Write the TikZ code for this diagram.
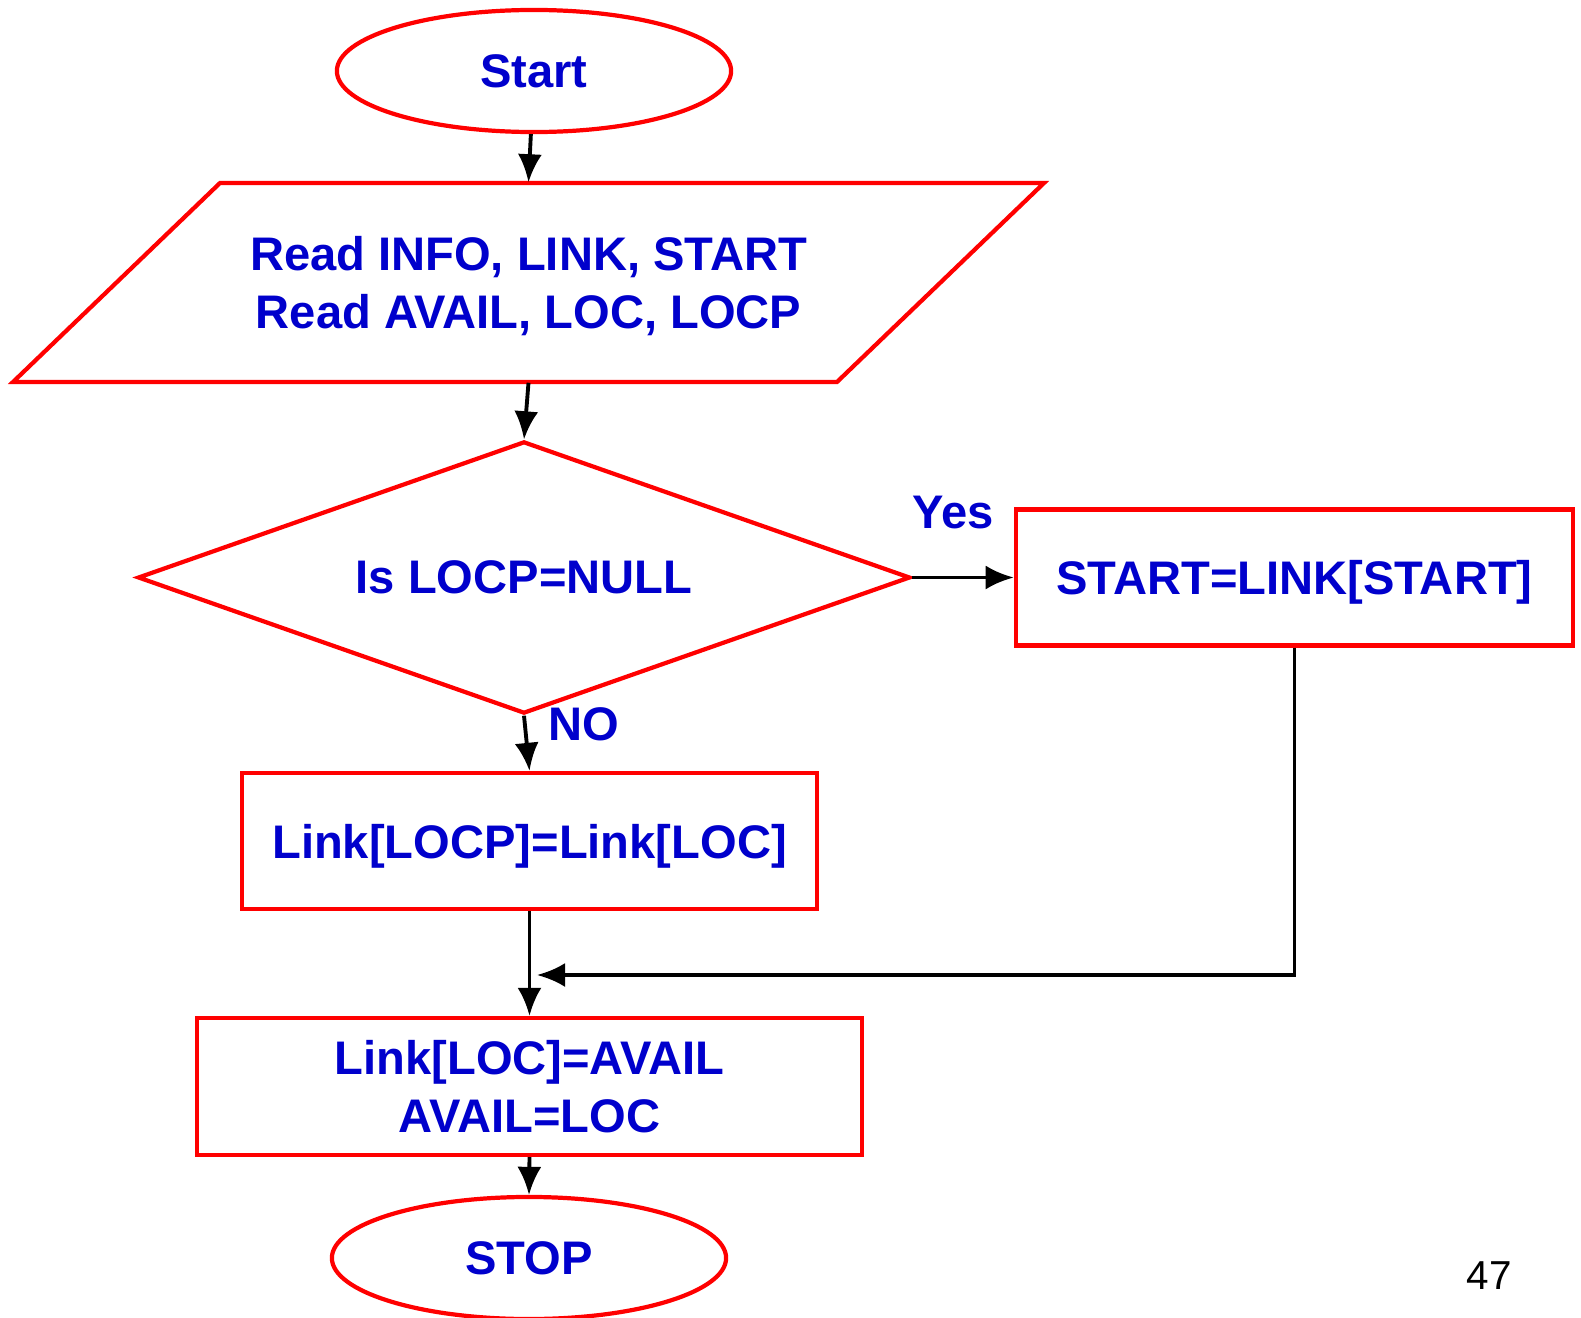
\documentclass[tikz,border=0pt]{standalone}
\usepackage{fontspec}
\setmainfont{Liberation Sans}
\usetikzlibrary{shapes.geometric,arrows.meta}
\definecolor{txtblue}{RGB}{0,0,204}
\tikzset{
  txt/.style={text=txtblue,font=\fontsize{13.4}{16.5}\selectfont\bfseries,align=center},
  term/.style={txt,ellipse,draw=red,line width=1.2pt,minimum width=3.94cm,minimum height=1.22cm,inner sep=0pt},
  procbox/.style={txt,rectangle,draw=red,line width=1.2pt,inner sep=0pt,text depth=0pt},
  arr/.style={-{Latex[length=2.8mm,width=2.4mm]},line width=1.1pt}
}
\begin{document}
\begin{tikzpicture}[x=0.01cm,y=-0.01cm]
\useasboundingbox (0,0) rectangle (1581,1318);
\node[term] (start) at (534,71) {Start};
\node[txt,minimum height=1.99cm,inner sep=0pt,text depth=0pt] (rd) at (528.5,282.5) {Read INFO, LINK, START\\Read AVAIL, LOC, LOCP};
\draw[draw=red,line width=1.2pt] ([shift={(-308.5,-99.5)}]rd.center) -- ([shift={(515.5,-99.5)}]rd.center)
  -- ([shift={(308.5,99.5)}]rd.center) -- ([shift={(-515.5,99.5)}]rd.center) -- cycle;
\node[txt,diamond,draw=red,line width=1.2pt,minimum width=7.72cm,minimum height=2.72cm,inner sep=0pt,aspect=2.84] (chk) at (524,577.5) {Is LOCP=NULL};
\node[procbox,minimum width=5.57cm,minimum height=1.36cm] (sb) at (1294.5,577.5) {START=LINK[START]};
\node[procbox,minimum width=5.75cm,minimum height=1.36cm] (lp) at (529.5,841) {Link[LOCP]=Link[LOC]};
\node[procbox,minimum width=6.65cm,minimum height=1.37cm] (la) at (529.5,1086.5) {Link[LOC]=AVAIL\\AVAIL=LOC};
\node[term] (stop) at (529,1258) {STOP};
\node[txt] (yes) at (953,513) {Yes};
\node[txt] (no) at (584,724) {NO};
\node[font=\fontsize{11.5}{13}\selectfont] (pg) at (1489,1276) {47};
\coordinate (mrg) at (537,975);
\draw[arr] (start) -- (rd.north);
\draw[arr] (rd.south) -- (chk.north);
\draw[arr] (chk.east) -- (sb.west);
\draw[arr] (chk.south) -- (lp.north);
\draw[arr] (lp.south) -- (la.north);
\draw[arr] (sb.south) |- (mrg);
\draw[arr] (la.south) -- (stop.north);
\end{tikzpicture}
\end{document}
